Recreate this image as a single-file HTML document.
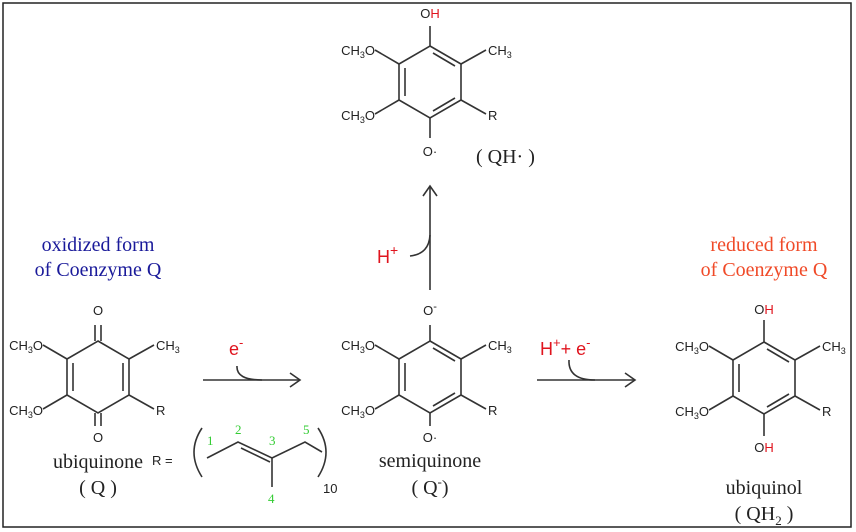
<!DOCTYPE html>
<html><head><style>
html,body{margin:0;padding:0;background:#fff}
svg{display:block}
.s{font-family:"Liberation Sans",sans-serif;font-size:13px;fill:#222}
.sr{font-family:"Liberation Serif",serif;font-size:20px;fill:#222}
.g{font-family:"Liberation Serif",serif;font-size:13px;fill:#3c3}
line,path,polyline{stroke:#333;stroke-width:1.6;fill:none}
</style></head><body>
<svg width="856" height="532" viewBox="0 0 856 532" xmlns="http://www.w3.org/2000/svg">
<defs>
<g id="subs">
<line x1="-31" y1="-18" x2="-55" y2="-32"/>
<line x1="-31" y1="18" x2="-55" y2="32"/>
<line x1="31" y1="-18" x2="56" y2="-32"/>
<line x1="31" y1="18" x2="56" y2="32"/>
<text class="s" x="-55" y="-27" text-anchor="end">CH<tspan font-size="9" dy="3">3</tspan><tspan dy="-3">O</tspan></text>
<text class="s" x="-55" y="38" text-anchor="end">CH<tspan font-size="9" dy="3">3</tspan><tspan dy="-3">O</tspan></text>
<text class="s" x="58" y="-27">CH<tspan font-size="9" dy="3">3</tspan></text>
<text class="s" x="58" y="38">R</text>
</g>
<polygon id="hex" points="0,-36 31,-18 31,18 0,36 -31,18 -31,-18" style="stroke:#333;stroke-width:1.6;fill:none"/>
<g id="arom">
<use href="#hex"/>
<line x1="-25" y1="-14" x2="-25" y2="14"/>
<line x1="3" y1="-29" x2="25" y2="-16"/>
<line x1="3" y1="29" x2="25" y2="16"/>
<use href="#subs"/>
</g>
</defs>
<rect x="3" y="3" width="848" height="524" fill="none" stroke="#222" stroke-width="1.5"/>

<!-- ubiquinone -->
<g transform="translate(98,377)">
<use href="#hex"/>
<line x1="-25" y1="-14" x2="-25" y2="14"/>
<line x1="25" y1="-14" x2="25" y2="14"/>
<line x1="-3" y1="-36" x2="-3" y2="-52"/><line x1="3" y1="-36" x2="3" y2="-52"/>
<line x1="-3" y1="36" x2="-3" y2="49"/><line x1="3" y1="36" x2="3" y2="49"/>
<use href="#subs"/>
<text class="s" x="0" y="-62" text-anchor="middle">O</text>
<text class="s" x="0" y="65" text-anchor="middle">O</text>
</g>
<text class="sr" x="98" y="251" text-anchor="middle" style="fill:#1a1a9a">oxidized form</text>
<text class="sr" x="98" y="276" text-anchor="middle" style="fill:#1a1a9a">of Coenzyme Q</text>
<text class="sr" x="98" y="468" text-anchor="middle">ubiquinone</text>
<text class="sr" x="98" y="494" text-anchor="middle">( Q )</text>

<!-- R chain -->
<text class="s" x="152" y="465">R =</text>
<path d="M202,428 Q186,452 202,477"/>
<polyline points="207,458 238,442 272,458 305,442 322,452"/>
<line x1="241" y1="448" x2="270" y2="462"/>
<line x1="272" y1="458" x2="272" y2="487"/>
<path d="M318,428 Q334,452 318,477"/>
<text class="g" x="207" y="445">1</text>
<text class="g" x="235" y="434">2</text>
<text class="g" x="269" y="445">3</text>
<text class="g" x="303" y="434">5</text>
<text class="g" x="268" y="503">4</text>
<text class="s" x="323" y="493">10</text>

<!-- arrow 1 -->
<line x1="203" y1="380" x2="300" y2="380"/>
<polyline points="290,373 300,380 290,387"/>
<path d="M237,366 Q236,380 262,380"/>
<text class="s" x="229" y="355" style="fill:#e0141e;font-size:18px">e<tspan font-size="13" dy="-8">-</tspan></text>

<!-- semiquinone -->
<g transform="translate(430,377)">
<use href="#arom"/>
<line x1="0" y1="-36" x2="0" y2="-52"/>
<line x1="0" y1="36" x2="0" y2="49"/>
<text class="s" x="0" y="-62" text-anchor="middle">O<tspan font-size="11" dy="-5">-</tspan></text>
<text class="s" x="0" y="65" text-anchor="middle">O·</text>
</g>
<text class="sr" x="430" y="467" text-anchor="middle">semiquinone</text>
<text class="sr" x="430" y="494" text-anchor="middle">( Q<tspan font-size="13" dy="-8">-</tspan><tspan dy="8">)</tspan></text>

<!-- vertical arrow -->
<line x1="430" y1="290" x2="430" y2="186"/>
<polyline points="423,196 430,186 437,196"/>
<path d="M430,235 Q429,254 410,256"/>
<text class="s" x="377" y="263" style="fill:#e0141e;font-size:18px">H<tspan font-size="14" dy="-8">+</tspan></text>

<!-- QH. -->
<g transform="translate(430,82)">
<use href="#arom"/>
<line x1="0" y1="-36" x2="0" y2="-56"/>
<line x1="0" y1="36" x2="0" y2="56"/>
<text class="s" x="0" y="-64" text-anchor="middle">O<tspan style="fill:#e0141e">H</tspan></text>
<text class="s" x="0" y="74" text-anchor="middle">O·</text>
</g>
<text class="sr" x="476" y="163">( QH· )</text>

<!-- arrow 2 -->
<line x1="537" y1="380" x2="635" y2="380"/>
<polyline points="625,373 635,380 625,387"/>
<path d="M569,360 Q568,380 595,380"/>
<text class="s" x="540" y="355" style="fill:#e0141e;font-size:18px">H<tspan font-size="13" dy="-8">+</tspan><tspan dy="8">+ e</tspan><tspan font-size="13" dy="-8">-</tspan></text>

<!-- ubiquinol -->
<g transform="translate(764,378)">
<use href="#arom"/>
<line x1="0" y1="-36" x2="0" y2="-58"/>
<line x1="0" y1="36" x2="0" y2="58"/>
<text class="s" x="0" y="-64" text-anchor="middle">O<tspan style="fill:#e0141e">H</tspan></text>
<text class="s" x="0" y="74" text-anchor="middle">O<tspan style="fill:#e0141e">H</tspan></text>
</g>
<text class="sr" x="764" y="251" text-anchor="middle" style="fill:#f04a28">reduced form</text>
<text class="sr" x="764" y="276" text-anchor="middle" style="fill:#f04a28">of Coenzyme Q</text>
<text class="sr" x="764" y="494" text-anchor="middle">ubiquinol</text>
<text class="sr" x="764" y="520" text-anchor="middle">( QH<tspan font-size="13" dy="5">2</tspan><tspan dy="-5"> )</tspan></text>
</svg>
</body></html>
